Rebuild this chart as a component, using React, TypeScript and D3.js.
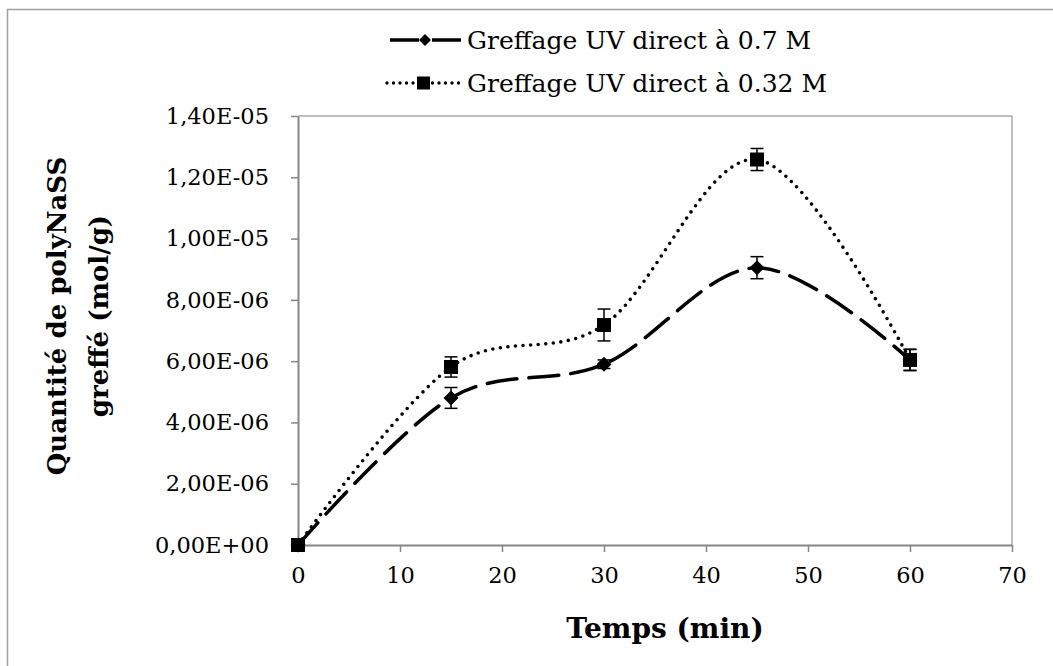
import { useRef, useEffect } from 'react';
import * as d3 from 'd3';

const TIMES = [0, 15, 30, 45, 60];
const SERIES_07 = [0, 4.8e-6, 5.9e-6, 9.05e-6, 6.04e-6];
const ERR_07 = [0, 0.34e-6, 0.14e-6, 0.36e-6, 0.34e-6];
const SERIES_032 = [0, 5.81e-6, 7.18e-6, 1.258e-5, 6.04e-6];
const ERR_032 = [0, 0.33e-6, 0.52e-6, 0.36e-6, 0.35e-6];
const X_TICKS = [0, 10, 20, 30, 40, 50, 60, 70];
const Y_TICKS = [0, 2e-6, 4e-6, 6e-6, 8e-6, 1e-5, 1.2e-5, 1.4e-5];
const LEGEND = ['Greffage UV direct à 0.7 M', 'Greffage UV direct à 0.32 M'];

const FONT = '"DejaVu Serif", serif';

// Excel-like "1,40E-05"
function sciFr(v: number) {
  if (v === 0) return '0,00E+00';
  const [m, e] = v.toExponential(2).split('e');
  const n = +e;
  const exp = (n < 0 ? '-' : '+') + String(Math.abs(n)).padStart(2, '0');
  return m.replace('.', ',') + 'E' + exp;
}

export default function App() {
  const svgRef = useRef<SVGSVGElement>(null);

  useEffect(() => {
    if (!svgRef.current) return;
    const W = 1053, H = 666;
    const margin = { top: 116, right: 41, bottom: 121, left: 298 };

    const svg = d3.select(svgRef.current);
    svg.selectAll('*').remove();
    svg.attr('width', W).attr('height', H);

    svg.append('rect').attr('width', W).attr('height', H).attr('fill', 'white');

    // outer chart frame (only left/top visible)
    svg.append('path')
      .attr('d', `M7.5,${H + 5} L7.5,9.5 L${W + 5},9.5`)
      .attr('fill', 'none').attr('stroke', '#a0a0a0').attr('stroke-width', 1.5);

    const x = d3.scaleLinear().domain([0, 70]).range([margin.left, W - margin.right]);
    const y = d3.scaleLinear().domain([0, 1.4e-5]).range([H - margin.bottom, margin.top]);

    // plot area border
    svg.append('path')
      .attr('d', `M${x(0)},${y(1.4e-5)} L${x(70)},${y(1.4e-5)} L${x(70)},${y(0)}`)
      .attr('fill', 'none').attr('stroke', '#7f7f7f').attr('stroke-width', 1);

    // axes
    svg.append('g')
      .attr('transform', `translate(0,${y(0)})`)
      .call(d3.axisBottom(x).tickValues(X_TICKS).tickSize(7).tickSizeOuter(0).tickPadding(15))
      .call(g => g.selectAll('.tick line').attr('stroke', '#868686').attr('stroke-width', 1.5))
      .call(g => g.select('.domain').attr('stroke', '#868686').attr('stroke-width', 2))
      .call(g => g.selectAll('.tick text').attr('fill', '#000').attr('font-size', '22.5px').attr('font-family', FONT));

    svg.append('g')
      .attr('transform', `translate(${x(0)},0)`)
      .call(d3.axisLeft(y).tickValues(Y_TICKS).tickSize(7).tickSizeOuter(0).tickPadding(22).tickFormat(d => sciFr(+d)))
      .call(g => g.selectAll('.tick line').attr('stroke', '#868686').attr('stroke-width', 1.5))
      .call(g => g.select('.domain').attr('stroke', '#868686').attr('stroke-width', 2))
      .call(g => g.selectAll('.tick text').attr('fill', '#000').attr('font-size', '22.5px').attr('font-family', FONT));

    const curve = d3.curveCatmullRom.alpha(0);
    const line = d3.line<number>()
      .x((_, i) => x(TIMES[i]))
      .y(d => y(d))
      .curve(curve);

    const diamond = 'M0,-7.5L7.5,0L0,7.5L-7.5,0Z';

    const drawErr = (vals: number[], errs: number[]) => {
      vals.forEach((v, i) => {
        if (!errs[i]) return;
        const cx = x(TIMES[i]);
        const g = svg.append('g').attr('stroke', '#000').attr('stroke-width', 1.5);
        g.append('line').attr('x1', cx).attr('x2', cx).attr('y1', y(v - errs[i])).attr('y2', y(v + errs[i]));
        g.append('line').attr('x1', cx - 6.5).attr('x2', cx + 6.5).attr('y1', y(v - errs[i])).attr('y2', y(v - errs[i]));
        g.append('line').attr('x1', cx - 6.5).attr('x2', cx + 6.5).attr('y1', y(v + errs[i])).attr('y2', y(v + errs[i]));
      });
    };

    // series 0.7 M (dashed, diamond)
    svg.append('path')
      .datum(SERIES_07)
      .attr('fill', 'none').attr('stroke', '#000').attr('stroke-width', 3.5)
      .attr('stroke-dasharray', '30 12').attr('stroke-linecap', 'round')
      .attr('d', line);

    // series 0.32 M (dotted, square)
    svg.append('path')
      .datum(SERIES_032)
      .attr('fill', 'none').attr('stroke', '#000').attr('stroke-width', 3.6)
      .attr('stroke-dasharray', '0 7.6').attr('stroke-linecap', 'round')
      .attr('d', line);

    drawErr(SERIES_07, ERR_07);
    drawErr(SERIES_032, ERR_032);

    svg.append('g').selectAll('path')
      .data(SERIES_07)
      .join('path')
      .attr('transform', (d, i) => `translate(${x(TIMES[i])},${y(d)})`)
      .attr('d', diamond).attr('fill', '#000');

    svg.append('g').selectAll('rect')
      .data(SERIES_032)
      .join('rect')
      .attr('x', (_, i) => x(TIMES[i]) - 7).attr('y', d => y(d) - 7)
      .attr('width', 14).attr('height', 14).attr('fill', '#000');

    // legend
    const lg = svg.append('g');
    const ly = [40, 83];
    lg.append('line').attr('x1', 390).attr('x2', 462).attr('y1', ly[0]).attr('y2', ly[0])
      .attr('stroke', '#000').attr('stroke-width', 3.5).attr('stroke-dasharray', '29 13');
    lg.append('path').attr('transform', `translate(425,${ly[0]})`).attr('d', 'M0,-6L6,0L0,6L-6,0Z').attr('fill', '#000');
    lg.append('line').attr('x1', 387).attr('x2', 462).attr('y1', ly[1]).attr('y2', ly[1])
      .attr('stroke', '#000').attr('stroke-width', 3.4).attr('stroke-dasharray', '0 6.5').attr('stroke-linecap', 'round');
    lg.append('rect').attr('x', 417).attr('y', ly[1] - 6.5).attr('width', 13).attr('height', 13).attr('fill', '#000');
    LEGEND.forEach((t, i) => {
      lg.append('text')
        .attr('x', 467).attr('y', ly[i])
        .attr('dominant-baseline', 'central')
        .attr('font-family', FONT).attr('font-size', '25px').attr('fill', '#000')
        .text(t);
    });

    // axis titles
    svg.append('text')
      .attr('x', 665).attr('y', 628)
      .attr('text-anchor', 'middle').attr('dominant-baseline', 'central')
      .attr('font-family', FONT).attr('font-weight', 'bold').attr('font-size', '28px')
      .text('Temps (min)');

    const yt = svg.append('text')
      .attr('transform', `translate(57,316) rotate(-90)`)
      .attr('text-anchor', 'middle')
      .attr('font-family', FONT).attr('font-weight', 'bold').attr('font-size', '26px');
    yt.append('tspan').attr('x', 0).attr('dy', '0.35em').text('Quantité de polyNaSS');
    yt.append('tspan').attr('x', 0).attr('dy', 42).text('greffé (mol/g)');
  }, []);

  return <svg ref={svgRef} style={{ position: 'absolute', left: 0, top: 0, display: 'block' }} />;
}
